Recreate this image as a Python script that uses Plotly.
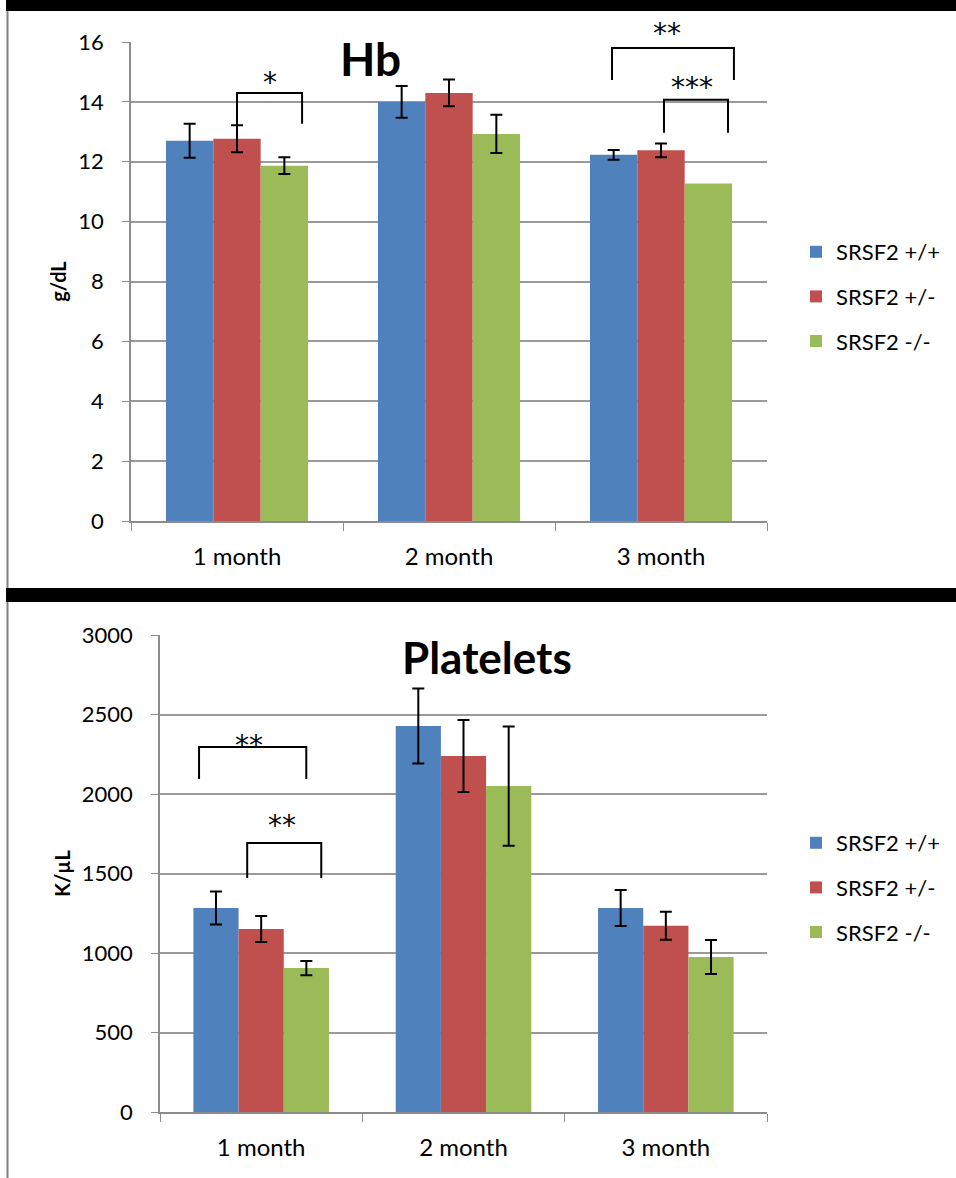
import plotly.graph_objects as go

W, H = 956, 1178

categories = ["1 month", "2 month", "3 month"]
series_names = ["SRSF2 +/+", "SRSF2 +/-", "SRSF2 -/-"]
colors = ["#4F81BD", "#C0504D", "#9BBB59"]

# Hb (g/dL)
hb_wt = [12.7, 14.0, 12.23]
hb_het = [12.77, 14.3, 12.38]
hb_ko = [11.87, 12.93, 11.27]
hb_wt_err = [0.57, 0.53, 0.16]
hb_het_err = [0.45, 0.45, 0.23]
hb_ko_err = [0.28, 0.64, None]   # no error bar drawn for 3 month

# Platelets (K/uL)
plt_wt = [1283, 2428, 1283]
plt_het = [1151, 2239, 1172]
plt_ko = [905, 2050, 975]
plt_wt_err = [104, 236, 113]
plt_het_err = [82, 226, 88]
plt_ko_err = [45, 375, 107]

hb_ticks = [0, 2, 4, 6, 8, 10, 12, 14, 16]
plt_ticks = [0, 500, 1000, 1500, 2000, 2500, 3000]
hb_range = [0, 16]
plt_range = [0, 3000]

# significance brackets: (category index, x0 offset, x1 offset, top, left leg end, right leg end, label, label x offset, label y)
hb_brackets = [
    (0, 0.0, 0.307, 14.3, 13.23, 13.27, "*", 0.156, 14.87),
    (2, -0.231, 0.344, 15.8, 14.73, 14.73, "**", 0.028, 16.53),
    (2, 0.014, 0.316, 14.07, 12.97, 12.97, "***", 0.146, 14.73),
]
plt_brackets = [
    (0, -0.307, 0.223, 2296, 2094, 2094, "**", -0.059, 2346),
    (0, -0.069, 0.297, 1692, 1472, 1472, "**", 0.104, 1843),
]

FONT = "Lato"
BARGAP = 0.33


def px_x(x):
    return x / W


def px_y(y):
    return 1 - y / H


def strip_missing(arr):
    out = list(arr)
    while out and out[-1] is None:
        out.pop()
    return out


fig = go.Figure()

panels = [
    ("x", "y", "legend", [hb_wt, hb_het, hb_ko], [hb_wt_err, hb_het_err, hb_ko_err]),
    ("x2", "y2", "legend2", [plt_wt, plt_het, plt_ko], [plt_wt_err, plt_het_err, plt_ko_err]),
]

for xa, ya, lg, vals, errs in panels:
    for i in range(3):
        fig.add_trace(go.Bar(
            x=categories, y=vals[i], name=series_names[i],
            marker=dict(color=colors[i], line=dict(width=0)),
            error_y=dict(type="data", array=strip_missing(errs[i]), visible=True,
                         color="black", thickness=2, width=6),
            xaxis=xa, yaxis=ya, legend=lg, legendgroup=lg + str(i),
        ))

shapes = []
annotations = []


def add_brackets(brs, xref, yref, yrange):
    span = yrange[1] - yrange[0]
    for ci, x0, x1, top, l0, l1, lab, lx, ly in brs:
        shapes.append(dict(type="path", xref=xref, yref=yref,
                           path=f"M {ci + x0},{l0} L {ci + x0},{top} L {ci + x1},{top} L {ci + x1},{l1}",
                           line=dict(color="black", width=2)))
        annotations.append(dict(xref=xref, yref=yref + " domain", x=ci + lx,
                                y=(ly - yrange[0]) / span, text=lab,
                                showarrow=False, yanchor="middle", xanchor="center", yshift=-7,
                                font=dict(family="DejaVu Sans", size=28, color="black")))


add_brackets(hb_brackets, "x", "y", hb_range)
add_brackets(plt_brackets, "x2", "y2", plt_range)

# titles
annotations.append(dict(xref="paper", yref="paper", x=px_x(370), y=px_y(58), text="<b>Hb</b>",
                        showarrow=False, xanchor="center", yanchor="middle",
                        font=dict(family=FONT, size=46, color="black")))
annotations.append(dict(xref="paper", yref="paper", x=px_x(487), y=px_y(657), text="<b>Platelets</b>",
                        showarrow=False, xanchor="center", yanchor="middle",
                        font=dict(family=FONT, size=44, color="black")))

# frame lines
shapes += [
    dict(type="rect", xref="paper", yref="paper", x0=px_x(6), x1=1, y0=px_y(11), y1=1,
         fillcolor="black", line=dict(width=0), layer="above"),
    dict(type="rect", xref="paper", yref="paper", x0=px_x(6), x1=1, y0=px_y(602), y1=px_y(588),
         fillcolor="black", line=dict(width=0), layer="above"),
    dict(type="line", xref="paper", yref="paper", x0=px_x(7.5), x1=px_x(7.5), y0=px_y(588), y1=px_y(11),
         line=dict(color="#808080", width=2)),
    dict(type="line", xref="paper", yref="paper", x0=px_x(7.5), x1=px_x(7.5), y0=0, y1=px_y(602),
         line=dict(color="#808080", width=2)),
]

axis_common = dict(showline=True, linecolor="#8c8c8c", linewidth=1.5, ticks="outside",
                   tickcolor="#8c8c8c", zeroline=False, automargin=False)
xfont = dict(family=FONT, size=24, color="black")
yfont = dict(family=FONT, size=22, color="black")
legfont = dict(family=FONT, size=22, color="black")

fig.update_layout(
    template="plotly_white",
    width=W, height=H, margin=dict(l=0, r=0, t=0, b=0, pad=0, autoexpand=False),
    paper_bgcolor="white", plot_bgcolor="white",
    barmode="group", bargap=BARGAP, bargroupgap=0,
    font=dict(family=FONT, color="black"),
    shapes=shapes, annotations=annotations,
    xaxis=dict(domain=[px_x(131), px_x(767)], anchor="y", tickson="boundaries", ticklen=8,
               ticklabelstandoff=13, showgrid=False, tickfont=xfont, **axis_common),
    yaxis=dict(domain=[px_y(521), px_y(42)], anchor="x", range=hb_range, tickvals=hb_ticks,
               ticklen=7, ticklabelstandoff=14, showgrid=True, gridcolor="#9a9a9a", gridwidth=1.5,
               tickfont=yfont,
               title=dict(text="<b>g/dL</b>", font=dict(family=FONT, size=20), standoff=6),
               **axis_common),
    xaxis2=dict(domain=[px_x(160), px_x(767)], anchor="y2", tickson="boundaries", ticklen=8,
                ticklabelstandoff=13, showgrid=False, tickfont=xfont, **axis_common),
    yaxis2=dict(domain=[px_y(1112), px_y(635)], anchor="x2", range=plt_range, tickvals=plt_ticks,
                ticklen=7, ticklabelstandoff=14, showgrid=True, gridcolor="#9a9a9a", gridwidth=1.5,
                tickfont=yfont,
                title=dict(text="<b>K/µL</b>", font=dict(family=FONT, size=20), standoff=6),
                **axis_common),
    legend=dict(x=px_x(796), y=px_y(231), xanchor="left", yanchor="top",
                font=legfont, tracegroupgap=13, bgcolor="rgba(0,0,0,0)"),
    legend2=dict(x=px_x(796), y=px_y(822), xanchor="left", yanchor="top",
                 font=legfont, tracegroupgap=13, bgcolor="rgba(0,0,0,0)"),
)

fig.write_html("out.html")
